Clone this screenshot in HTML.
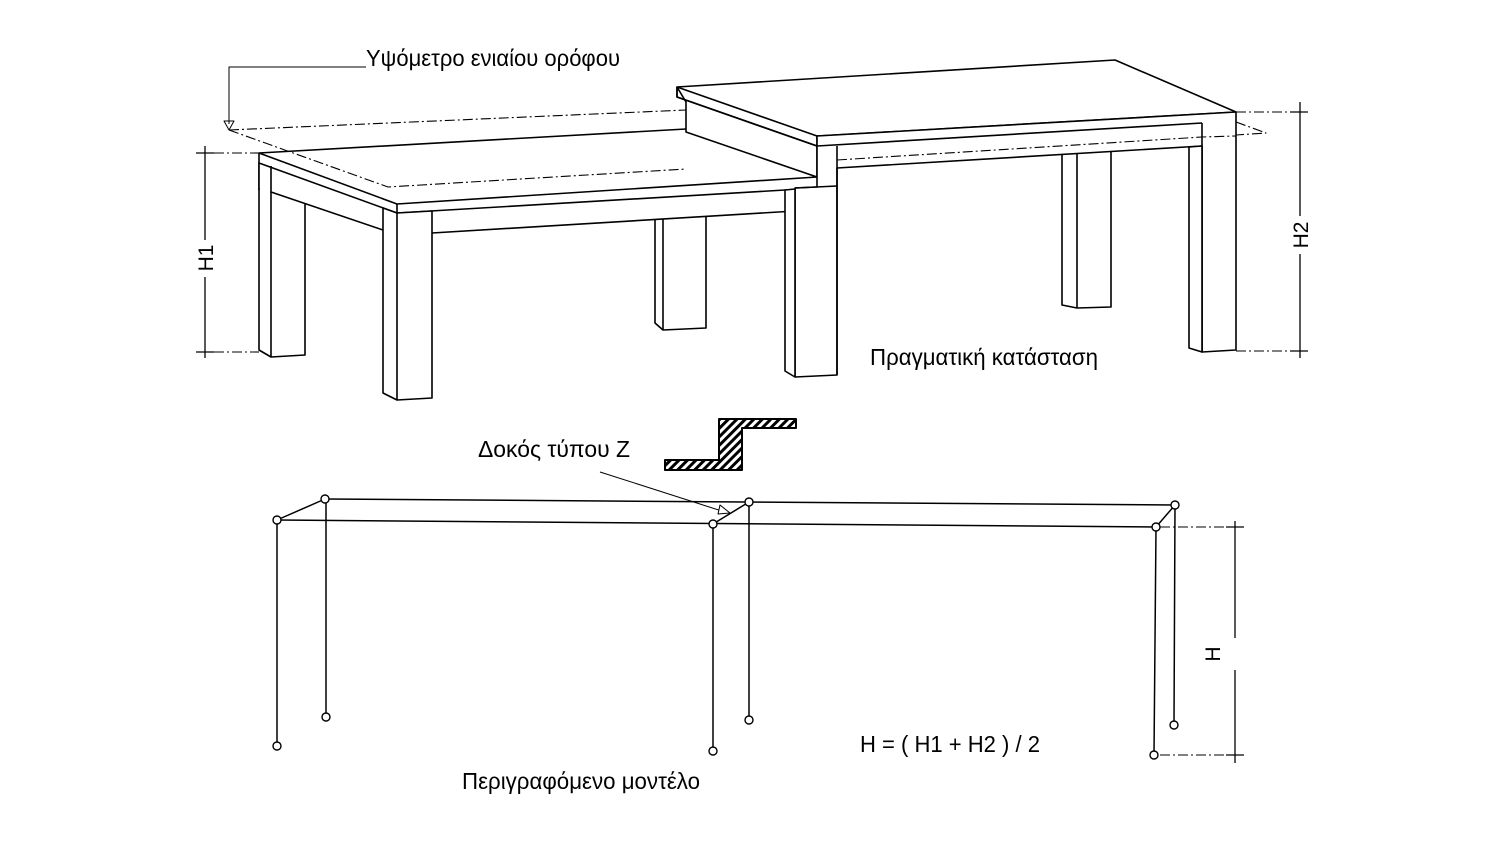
<!DOCTYPE html>
<html><head><meta charset="utf-8"><style>
html,body{margin:0;padding:0;background:#fff;}
svg{display:block;}
text{font-family:"Liberation Sans","DejaVu Sans",sans-serif;fill:#000;}
</style></head><body>
<svg width="1500" height="843" viewBox="0 0 1500 843" xmlns="http://www.w3.org/2000/svg">
<defs>
<pattern id="hatch" width="6" height="6" patternUnits="userSpaceOnUse" patternTransform="rotate(45)">
<rect width="6" height="6" fill="#fff"/><rect width="3" height="6" fill="#000"/>
</pattern>
</defs>
<g fill="none" stroke="#000" stroke-width="1.6" stroke-linejoin="round">
<polygon points="259,163 305,163 305,355 271,357 259,350" fill="#fff"/>
<line x1="271" y1="166" x2="271" y2="357"/>
<polygon points="655,210 706,210 706,328 663,330 655,323" fill="#fff"/>
<line x1="663" y1="210" x2="663" y2="330"/>
<polygon points="259,153 686,129 817,177 836,177 836,187 795,190 795,211 432,233 383,230 271,192 259,188" fill="#fff" stroke="none"/>
<polygon points="259,153 686,129 817,177 397,204" fill="#fff"/>
<polyline points="259,153 259,163 397,213 397,204"/>
<polyline points="397,213 836,187"/>
<polyline points="259,163 259,190"/>
<polyline points="271,166 271,192 383,230"/>
<polyline points="432,233 795,211"/>
<polygon points="383,208 397,213 432,211 432,398 397,400 383,393" fill="#fff"/>
<line x1="397" y1="213" x2="397" y2="400"/>
<polygon points="1062,150 1111,150 1111,307 1077,308 1062,305" fill="#fff"/>
<line x1="1077" y1="152" x2="1077" y2="308"/>
<polygon points="677,87 686,102 686,132 817,177 817,146 677,97" fill="#fff"/>
<polygon points="677,87 1115,60 1236,112 817,136" fill="#fff"/>
<polyline points="677,87 677,97 817,146 817,136"/>
<polygon points="817,136 1236,112 1236,350 1202,352 1202,146 837,168 837,375 795,377 795,188 817,187 817,136" fill="#fff"/>
<polyline points="817,146 1202,123"/>
<line x1="837" y1="146" x2="837" y2="375"/>
<line x1="1202" y1="123" x2="1202" y2="352"/>
<line x1="795" y1="188" x2="837" y2="186"/>
<polygon points="1189,147 1202,146 1202,352 1189,348" fill="#fff"/>
<polygon points="785,190 795,189 795,377 785,371" fill="#fff"/>
<g stroke-width="1.1" stroke-dasharray="10,3,2,3">
<polyline points="229,130 686,110"/>
<polyline points="229,130 388,187 686,169"/>
<polyline points="837,160 1202,137 1236,136"/>
<polyline points="1236,122 1266,133 1236,135"/>
</g>
<polyline points="366,67 229,67 229,124" stroke-width="1"/>
<polygon points="224,121 234,121 229,130" stroke-width="1"/>
<line x1="205" y1="146" x2="205" y2="240" stroke-width="1.3"/>
<line x1="205" y1="277" x2="205" y2="358" stroke-width="1.3"/>
<line x1="196" y1="153" x2="214" y2="153" stroke-width="1.3"/>
<line x1="196" y1="352" x2="214" y2="352" stroke-width="1.3"/>
<line x1="214" y1="153" x2="259" y2="153" stroke-width="1.1" stroke-dasharray="10,3,2,3"/>
<line x1="214" y1="352" x2="259" y2="352" stroke-width="1.1" stroke-dasharray="10,3,2,3"/>
<line x1="1300" y1="102" x2="1300" y2="216" stroke-width="1.3"/>
<line x1="1300" y1="254" x2="1300" y2="358" stroke-width="1.3"/>
<line x1="1290" y1="112" x2="1308" y2="112" stroke-width="1.3"/>
<line x1="1290" y1="351" x2="1308" y2="351" stroke-width="1.3"/>
<line x1="1236" y1="112" x2="1290" y2="112" stroke-width="1.1" stroke-dasharray="10,3,2,3"/>
<line x1="1236" y1="351" x2="1290" y2="351" stroke-width="1.1" stroke-dasharray="10,3,2,3"/>
<path d="M719,419 H796 V428 H742 V470 H665 V460 H719 Z" fill="url(#hatch)" stroke-width="2"/>
<g stroke-width="1.5">
<line x1="277" y1="520" x2="325" y2="499"/>
<line x1="325" y1="499" x2="1175" y2="505"/>
<line x1="277" y1="520" x2="1156" y2="527"/>
<line x1="713" y1="524" x2="749" y2="502"/>
<line x1="1156" y1="527" x2="1175" y2="505"/>
<line x1="277" y1="520" x2="277" y2="746"/>
<line x1="326" y1="499" x2="326" y2="717"/>
<line x1="713" y1="524" x2="713" y2="751"/>
<line x1="749" y1="502" x2="749" y2="720"/>
<line x1="1175" y1="505" x2="1174" y2="725"/>
<line x1="1156" y1="527" x2="1154" y2="755"/>
</g>
<g fill="#fff" stroke-width="1.4">
<circle cx="277" cy="520" r="4"/><circle cx="325" cy="499" r="4"/><circle cx="713" cy="524" r="4"/>
<circle cx="749" cy="502" r="4"/><circle cx="1175" cy="505" r="4"/><circle cx="1156" cy="527" r="4"/>
<circle cx="277" cy="746" r="4"/><circle cx="326" cy="717" r="4"/><circle cx="713" cy="751" r="4"/>
<circle cx="749" cy="720" r="4"/><circle cx="1174" cy="725" r="4"/><circle cx="1154" cy="755" r="4"/>
</g>
<line x1="600" y1="472" x2="728" y2="513" stroke-width="1"/>
<polygon points="730,513 720,505 718,514" fill="#fff" stroke-width="1"/>
<line x1="1235" y1="521" x2="1235" y2="638" stroke-width="1.3"/>
<line x1="1235" y1="670" x2="1235" y2="763" stroke-width="1.3"/>
<line x1="1226" y1="527" x2="1244" y2="527" stroke-width="1.3"/>
<line x1="1226" y1="755" x2="1244" y2="755" stroke-width="1.3"/>
<line x1="1160" y1="527" x2="1226" y2="527" stroke-width="1.1" stroke-dasharray="10,3,2,3"/>
<line x1="1160" y1="755" x2="1226" y2="755" stroke-width="1.1" stroke-dasharray="10,3,2,3"/>
</g>
<text x="366" y="66" font-size="23" textLength="254" lengthAdjust="spacingAndGlyphs">Υψόμετρο ενιαίου ορόφου</text>
<text x="870" y="365" font-size="23" textLength="228" lengthAdjust="spacingAndGlyphs">Πραγματική κατάσταση</text>
<text x="478" y="457" font-size="23" textLength="152" lengthAdjust="spacingAndGlyphs">Δοκός τύπου Z</text>
<text x="860" y="752" font-size="23" textLength="180" lengthAdjust="spacingAndGlyphs">H = ( H1 + H2 ) / 2</text>
<text x="462" y="789" font-size="23" textLength="238" lengthAdjust="spacingAndGlyphs">Περιγραφόμενο μοντέλο</text>
<text transform="translate(213,258) rotate(-90)" font-size="21" text-anchor="middle">H1</text>
<text transform="translate(1308,235) rotate(-90)" font-size="21" text-anchor="middle">H2</text>
<text transform="translate(1220,654) rotate(-90)" font-size="21" text-anchor="middle">H</text>
</svg>
</body></html>
